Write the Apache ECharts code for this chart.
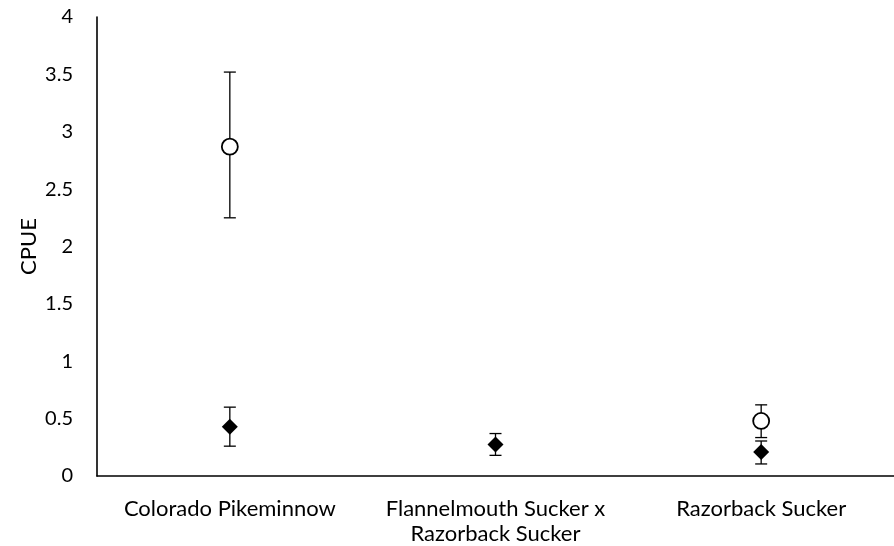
<!DOCTYPE html>
<html>
<head>
<meta charset="utf-8">
<script src="https://cdn.jsdelivr.net/npm/echarts@6/dist/echarts.min.js"></script>
<style>html,body{margin:0;padding:0;background:#fff}#c{width:894px;height:546px}</style>
</head>
<body>
<div id="c"></div>
<script>
const categories = ['Colorado Pikeminnow', 'Flannelmouth Sucker x\nRazorback Sucker', 'Razorback Sucker'];
const yTicks = [0, 0.5, 1, 1.5, 2, 2.5, 3, 3.5, 4];
const circleMean = [2.87, null, 0.48];
const circleLow = [2.25, null, 0.335];
const circleHigh = [3.52, null, 0.62];
const diamondMean = [0.43, 0.275, 0.21];
const diamondLow = [0.26, 0.18, 0.105];
const diamondHigh = [0.60, 0.37, 0.305];

const FONT = 'Lato';

function errData(low, high) {
  const out = [];
  for (let i = 0; i < low.length; i++) {
    if (low[i] != null) out.push([i, low[i], high[i]]);
  }
  return out;
}
function pts(mean) {
  const out = [];
  for (let i = 0; i < mean.length; i++) if (mean[i] != null) out.push([i, mean[i]]);
  return out;
}
function renderErr(params, api) {
  const x = api.value(0);
  const lo = api.coord([x, api.value(1)]);
  const hi = api.coord([x, api.value(2)]);
  const hw = 6;
  const style = { stroke: '#000', lineWidth: 1.3, fill: null };
  return {
    type: 'group',
    children: [
      { type: 'line', shape: { x1: lo[0], y1: lo[1], x2: hi[0], y2: hi[1] }, style: style },
      { type: 'line', shape: { x1: lo[0] - hw, y1: lo[1], x2: lo[0] + hw, y2: lo[1] }, style: style },
      { type: 'line', shape: { x1: hi[0] - hw, y1: hi[1], x2: hi[0] + hw, y2: hi[1] }, style: style }
    ]
  };
}

const chart = echarts.init(document.getElementById('c'), null, { renderer: 'canvas' });
chart.setOption({
  animation: false,
  backgroundColor: '#fff',
  grid: { left: 97, top: 17, width: 810, height: 459, containLabel: false },
  xAxis: {
    type: 'category',
    data: categories,
    boundaryGap: true,
    axisLine: { show: true, lineStyle: { color: '#000', width: 1.6 } },
    axisTick: { show: false },
    axisLabel: { color: '#000', fontFamily: FONT, fontSize: 22, margin: 20, lineHeight: 25, interval: 0 },
    splitLine: { show: false }
  },
  yAxis: {
    type: 'value',
    min: yTicks[0],
    max: yTicks[yTicks.length - 1],
    interval: 0.5,
    name: 'CPUE',
    nameLocation: 'middle',
    nameGap: 57,
    nameMoveOverlap: false,
    nameTextStyle: { color: '#000', fontFamily: FONT, fontSize: 22 },
    axisLine: { show: true, lineStyle: { color: '#000', width: 1.6 } },
    axisTick: { show: false },
    axisLabel: { color: '#000', fontFamily: FONT, fontSize: 20, margin: 24 },
    splitLine: { show: false }
  },
  series: [
    { type: 'custom', renderItem: renderErr, data: errData(circleLow, circleHigh), z: 2, encode: { x: 0, y: [1, 2] } },
    { type: 'custom', renderItem: renderErr, data: errData(diamondLow, diamondHigh), z: 2, encode: { x: 0, y: [1, 2] } },
    {
      type: 'scatter', data: pts(circleMean), symbol: 'circle', symbolSize: 16, z: 5,
      itemStyle: { color: '#fff', borderColor: '#000', borderWidth: 1.8, opacity: 1 }
    },
    {
      type: 'scatter', data: pts(diamondMean), symbol: 'diamond', symbolSize: [16, 16], z: 5,
      itemStyle: { color: '#000', borderColor: '#000', borderWidth: 0, opacity: 1 }
    }
  ]
});
</script>
</body>
</html>
